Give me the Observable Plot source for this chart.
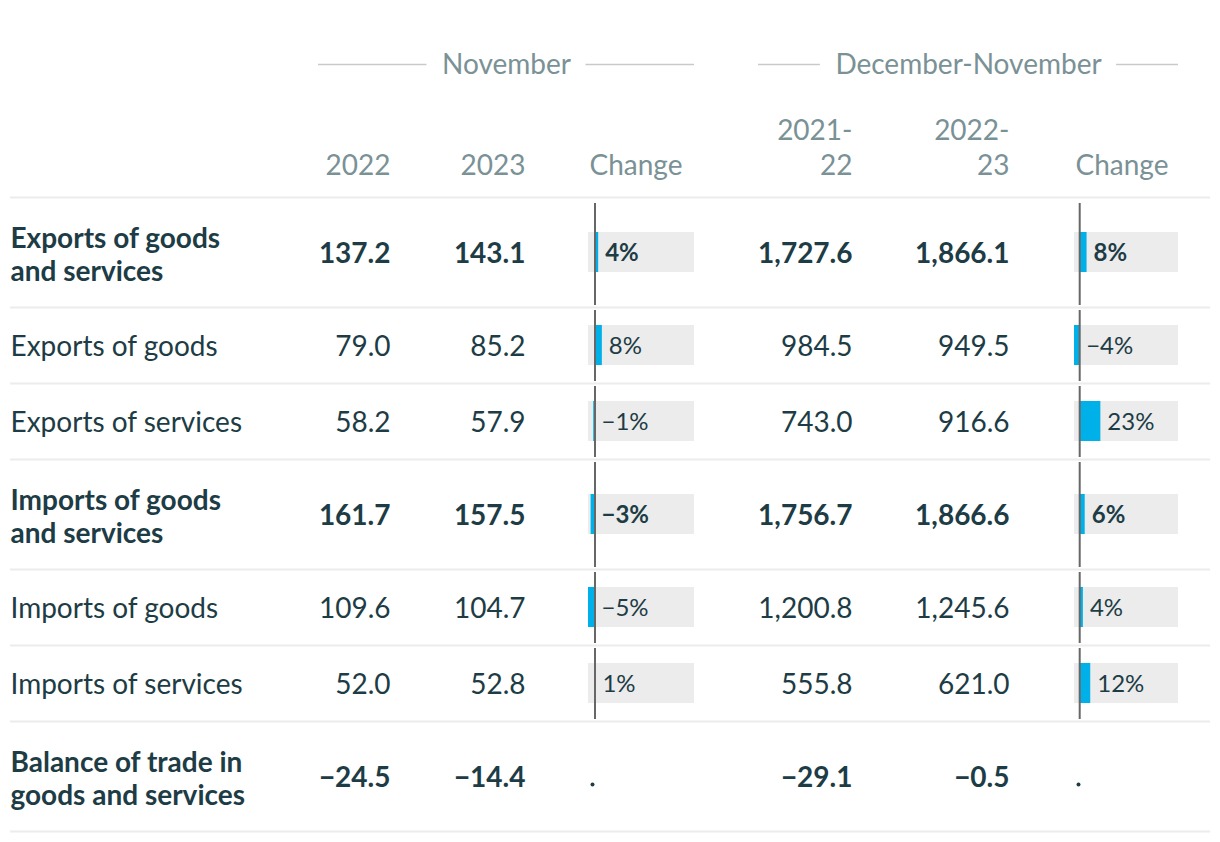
<!DOCTYPE html>
<html><head><meta charset="utf-8">
<script src="https://cdn.jsdelivr.net/npm/d3@7"></script>
<script src="https://cdn.jsdelivr.net/npm/@observablehq/plot@0.6"></script>
<style>
html,body{margin:0;padding:0;background:#fff;}
#chart svg{display:block;font-family:Lato,sans-serif;}
</style></head><body><div id="chart"></div>
<script>
// ---------- data ----------
const rowLabels = ["Exports of goods\nand services","Exports of goods","Exports of services","Imports of goods\nand services","Imports of goods","Imports of services","Balance of trade in\ngoods and services"];
const rowBold = [true,false,false,true,false,false,true];
const nov2022 = [137.2, 79.0, 58.2, 161.7, 109.6, 52.0, -24.5];
const nov2023 = [143.1, 85.2, 57.9, 157.5, 104.7, 52.8, -14.4];
const novChange = [4, 8, -1, -3, -5, 1, null];
const dn2122 = [1727.6, 984.5, 743.0, 1756.7, 1200.8, 555.8, -29.1];
const dn2223 = [1866.1, 949.5, 916.6, 1866.6, 1245.6, 621.0, -0.5];
const dnChange = [8, -4, 23, 6, 4, 12, null];
const groupLabels = ["November", "December-November"];
const valueHeaders = ["2022", "2023", "2021-\n22", "2022-\n23"];
const changeHeader = "Change";

// ---------- style / layout ----------
const W = 1220, H = 842;
const FONT = "Lato, sans-serif";
const DARK = "#1d3c45", GREY = "#7a9196", RULE = "#ececec", BAR = "#00b1e9", ZERO = "#676767", BG = "#ececec", HLINE = "#c9c9c9";
const FS = 28;

const headerSep = 197;
const rowH = rowBold.map(b => b ? 110 : 76);
const rows = rowLabels.map((label, i) => {
  const top = headerSep + d3.sum(rowH.slice(0, i));
  return {i, label, bold: rowBold[i], top, bottom: top + rowH[i], mid: top + rowH[i] / 2};
});

const valueCols = [
  {right: 390, vals: nov2022, head: valueHeaders[0]},
  {right: 525, vals: nov2023, head: valueHeaders[1]},
  {right: 852, vals: dn2122, head: valueHeaders[2]},
  {right: 1009, vals: dn2223, head: valueHeaders[3]}
];
const changeCols = [
  {x0: 588, x1: 694, vals: novChange},
  {x0: 1074, x1: 1178, vals: dnChange}
];
changeCols.forEach(c => {
  const v = c.vals.filter(d => d != null);
  const mn = Math.min(0, d3.min(v)), mx = Math.max(0, d3.max(v));
  const zero = c.x0 + Math.abs(mn) * 1.3;
  c.scale = d3.scaleLinear().domain([mn, 0, mx]).range([c.x0, zero, zero + mx * 0.92]);
  c.zero = c.scale(0);
});
const groups = [
  {label: groupLabels[0], x0: 318, x1: 694},
  {label: groupLabels[1], x0: 758, x1: 1178}
];

// measure text widths for the group-header rules
const ctx = document.createElement("canvas").getContext("2d");
ctx.font = `400 ${FS}px Lato`;
groups.forEach(g => { g.mid = (g.x0 + g.x1) / 2; g.w = ctx.measureText(g.label).width; });

const fmtNum = d3.format(",.1f");
const fmtPct = v => d3.format("d")(v) + "%";

// flattened cells
const valueCells = [];
rows.forEach(r => valueCols.forEach(c => valueCells.push({r, x: c.right, text: fmtNum(c.vals[r.i])})));
const changeCells = [];
rows.forEach(r => changeCols.forEach(c => changeCells.push({r, c, v: c.vals[r.i]})));
const barCells = changeCells.filter(d => d.v != null);
const nullCells = changeCells.filter(d => d.v == null);

const pctText = (bold) => Plot.text(barCells.filter(d => d.r.bold === bold), {
  x: d => Math.max(d.c.zero, d.c.scale(d.v)) + 6.5, y: d => d.r.mid + 1,
  text: d => fmtPct(d.v), textAnchor: "start", lineAnchor: "middle",
  fill: DARK, fontSize: 24, fontWeight: bold ? 700 : 400, fontFamily: FONT
});

const chart = Plot.plot({
  width: W, height: H,
  margin: 0,
  x: {type: "linear", domain: [0, W], range: [0, W], axis: null},
  y: {type: "linear", domain: [0, H], range: [0, H], axis: null},
  style: {fontFamily: FONT, background: "#fff"},
  marks: [
    // row separators
    Plot.ruleY([headerSep, ...rows.map(r => r.bottom)], {y: d => d, x1: 10, x2: 1210, stroke: RULE, strokeWidth: 2}),
    // group header rules
    Plot.ruleY(groups, {y: 64, x1: d => d.x0, x2: d => d.mid - d.w / 2 - 15, stroke: HLINE, strokeWidth: 1.5}),
    Plot.ruleY(groups, {y: 64, x1: d => d.mid + d.w / 2 + 15, x2: d => d.x1, stroke: HLINE, strokeWidth: 1.5}),
    Plot.text(groups, {x: d => d.mid, y: 65, text: "label", textAnchor: "middle", lineAnchor: "middle", fill: GREY, fontSize: FS, fontFamily: FONT}),
    // column headers
    Plot.text(valueCols, {x: "right", y: 174, text: "head", textAnchor: "end", lineAnchor: "bottom", lineHeight: 1.22, fill: GREY, fontSize: FS, fontFamily: FONT}),
    Plot.text(changeCols, {x: d => d.x0 + 1, y: 174, text: () => changeHeader, textAnchor: "start", lineAnchor: "bottom", fill: GREY, fontSize: FS, fontFamily: FONT}),
    // row labels
    Plot.text(rows.filter(r => r.bold), {x: 10, y: d => d.mid + 1.5, text: "label", textAnchor: "start", lineAnchor: "middle", lineHeight: 1.19, fill: DARK, fontSize: FS, fontWeight: 700, fontFamily: FONT}),
    Plot.text(rows.filter(r => !r.bold), {x: 10, y: d => d.mid + 2, text: "label", textAnchor: "start", lineAnchor: "middle", fill: DARK, fontSize: FS, fontWeight: 400, fontFamily: FONT}),
    // numeric values
    Plot.text(valueCells.filter(d => d.r.bold), {x: "x", y: d => d.r.mid + 2, text: "text", textAnchor: "end", lineAnchor: "middle", fill: DARK, fontSize: FS, fontWeight: 700, fontFamily: FONT}),
    Plot.text(valueCells.filter(d => !d.r.bold), {x: "x", y: d => d.r.mid + 2, text: "text", textAnchor: "end", lineAnchor: "middle", fill: DARK, fontSize: FS, fontWeight: 400, fontFamily: FONT}),
    // bar backgrounds
    Plot.rect(barCells, {x1: d => d.c.x0, x2: d => d.c.x1, y1: d => d.r.mid - 20, y2: d => d.r.mid + 20, fill: BG}),
    // bars
    Plot.rect(barCells, {x1: d => d.c.zero, x2: d => d.c.scale(d.v), y1: d => d.r.mid - 20, y2: d => d.r.mid + 20, fill: BAR}),
    // zero lines
    Plot.ruleX(barCells, {x: d => d.c.zero, y1: d => d.r.top + (d.r.i === 0 ? 6 : 3), y2: d => d.r.bottom - 2, stroke: ZERO, strokeWidth: 2}),
    // labels
    pctText(true), pctText(false),
    // placeholder dots
    Plot.dot(nullCells, {x: d => d.c.x0 + 4, y: d => d.r.mid + 8, r: 2, fill: DARK, stroke: null})
  ]
});
document.getElementById("chart").appendChild(chart);
</script>
</body></html>
